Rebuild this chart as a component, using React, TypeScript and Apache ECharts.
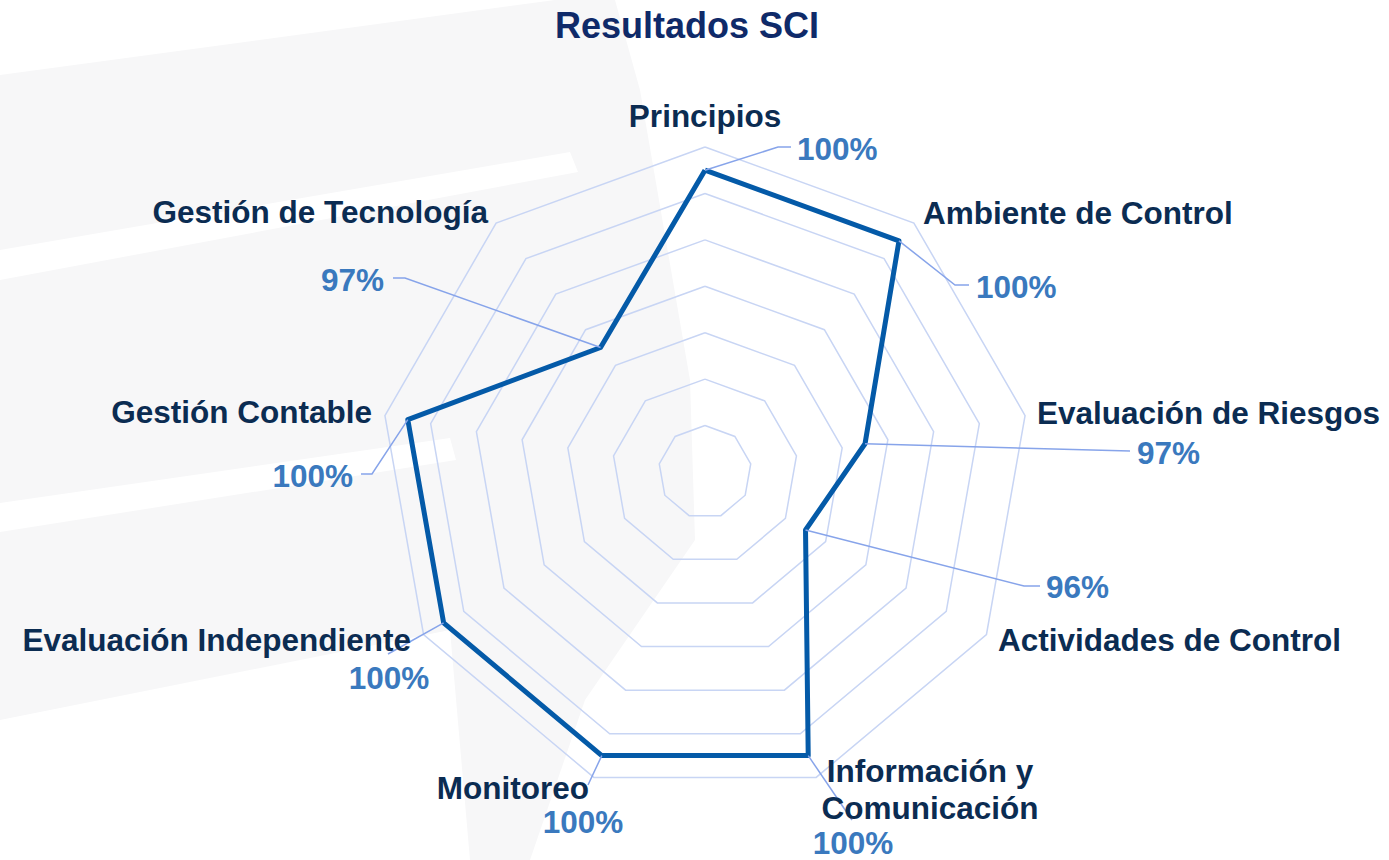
import React, { useEffect, useRef } from "react";
import * as echarts from "echarts";

// ---- data ----
const titleText = "Resultados SCI";
const categories = [
  "Principios",
  "Ambiente de Control",
  "Evaluación de Riesgos",
  "Actividades de Control",
  "Información y\nComunicación",
  "Monitoreo",
  "Evaluación Independiente",
  "Gestión Contable",
  "Gestión de Tecnología",
];
const values = [100, 100, 97, 96, 100, 100, 100, 100, 97];
const axisMin = 93.5;
const axisMax = 100.5;
const ringCount = 7;

// ---- layout (label placement only) ----
type Align = "left" | "center" | "right";
const nameLayout: { x: number; y: number; align: Align }[] = [
  { x: 705, y: 116, align: "center" },
  { x: 923, y: 213, align: "left" },
  { x: 1037, y: 413, align: "left" },
  { x: 998, y: 640, align: "left" },
  { x: 930, y: 789, align: "center" },
  { x: 589, y: 788, align: "right" },
  { x: 411, y: 640, align: "right" },
  { x: 372, y: 412, align: "right" },
  { x: 488, y: 212, align: "right" },
];
const pctLayout: { x: number; y: number; align: Align; elbow: number[][] }[] = [
  { x: 797, y: 149, align: "left", elbow: [[778, 147], [791, 147]] },
  { x: 976, y: 287, align: "left", elbow: [[955, 285], [969, 285]] },
  { x: 1137, y: 453, align: "left", elbow: [[1130, 451]] },
  { x: 1046, y: 587, align: "left", elbow: [[1024, 586], [1040, 586]] },
  { x: 853, y: 843, align: "center", elbow: [[852, 820]] },
  { x: 583, y: 822, align: "center", elbow: [[588, 785]] },
  { x: 389, y: 678, align: "center", elbow: [[388, 654]] },
  { x: 353, y: 476, align: "right", elbow: [[372, 474], [361, 474]] },
  { x: 384, y: 280, align: "right", elbow: [[405, 278], [393, 278]] },
];
const bgGray: number[][][] = [
  [[0, 75], [555, 0], [615, 0], [640, 90], [690, 380], [695, 540], [585, 700], [530, 860], [470, 860], [450, 630], [0, 720]],
];
const bgWhite: number[][][] = [
  [[0, 250], [570, 152], [578, 172], [0, 280]],
  [[0, 503], [450, 438], [456, 460], [0, 532]],
];

const FONT = "'Liberation Sans', Arial, Helvetica, sans-serif";

export default function App() {
  const ref = useRef<HTMLDivElement>(null);
  useEffect(() => {
    if (!ref.current) return;
    const chart = echarts.init(ref.current, null, { renderer: "svg" });
    const n = categories.length;
    // ECharts places indicators counter-clockwise; reorder so they read clockwise
    const order = categories.map((_, i) => (i === 0 ? 0 : n - i));
    const center = [705, 472];
    const radius = 325;
    chart.setOption({
      animation: false,
      backgroundColor: "#ffffff",
      radar: {
        center,
        radius,
        startAngle: 90,
        shape: "polygon",
        splitNumber: ringCount,
        indicator: order.map((i) => ({ name: categories[i], min: axisMin, max: axisMax })),
        axisName: { show: false },
        axisLine: { show: false },
        axisTick: { show: false },
        axisLabel: { show: false },
        splitLine: { lineStyle: { color: "#c8d5f4", width: 1.5 } },
        splitArea: { show: false },
      },
      series: [
        {
          type: "radar",
          symbol: "none",
          silent: true,
          z: 3,
          lineStyle: { color: "#045aa8", width: 5 },
          data: [{ value: order.map((i) => values[i]) }],
        },
      ],
    });

    let coord: any = null;
    try {
      coord = (chart as any).getModel().getComponent("radar", 0).coordinateSystem;
    } catch (e) {
      coord = null;
    }
    const toPoint = (v: number, catIdx: number) => {
      const idx = order.indexOf(catIdx);
      if (coord && coord.dataToPoint) return coord.dataToPoint(v, idx);
      const ang = Math.PI / 2 + (idx * 2 * Math.PI) / n;
      const r = ((v - axisMin) / (axisMax - axisMin)) * radius;
      return [center[0] + Math.cos(ang) * r, center[1] - Math.sin(ang) * r];
    };

    const graphics: any[] = [];
    bgGray.forEach((pts) =>
      graphics.push({ type: "polygon", z: -100, silent: true, shape: { points: pts }, style: { fill: "#f7f7f8" } })
    );
    bgWhite.forEach((pts) =>
      graphics.push({ type: "polygon", z: -99, silent: true, shape: { points: pts }, style: { fill: "#ffffff" } })
    );
    graphics.push({
      type: "text",
      x: 687,
      y: 25,
      z: 10,
      style: {
        text: titleText,
        fill: "#0f2a69",
        font: `bold 36px ${FONT}`,
        textAlign: "center",
        textVerticalAlign: "middle",
      },
    });
    categories.forEach((c, i) => {
      const nl = nameLayout[i];
      graphics.push({
        type: "text",
        x: nl.x,
        y: nl.y,
        z: 10,
        style: {
          text: c,
          fill: "#0b2c52",
          font: `bold 31.5px ${FONT}`,
          lineHeight: 37,
          textAlign: nl.align,
          textVerticalAlign: "middle",
        },
      });
      const pl = pctLayout[i];
      const p = toPoint(values[i], i);
      graphics.push({
        type: "polyline",
        z: 9,
        silent: true,
        shape: { points: [p, ...pl.elbow] },
        style: { stroke: "#87a4ea", lineWidth: 1.5, fill: null },
      });
      graphics.push({
        type: "text",
        x: pl.x,
        y: pl.y,
        z: 10,
        style: {
          text: `${Math.round(values[i])}%`,
          fill: "#3a79be",
          font: `bold 31.5px ${FONT}`,
          textAlign: pl.align,
          textVerticalAlign: "middle",
        },
      });
    });
    chart.setOption({ graphic: graphics });
    return () => chart.dispose();
  }, []);
  return (
    <div
      ref={ref}
      style={{ position: "absolute", left: 0, top: 0, width: 1389, height: 860, background: "#fff" }}
    />
  );
}
